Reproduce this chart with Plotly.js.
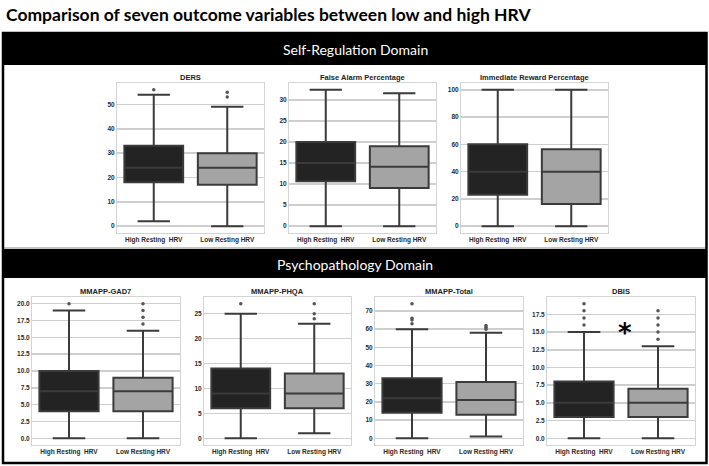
<!DOCTYPE html>
<html>
<head>
<meta charset="utf-8">
<script src="https://cdn.plot.ly/plotly-3.0.1.min.js"></script>
<style>html,body{margin:0;padding:0;background:#fff;}#chart{width:709px;height:466px;}</style>
</head>
<body>
<div id="chart"></div>
<script>
// ---- data ----
const categories = ['High Resting  HRV', 'Low Resting HRV'];
const panelTitles = ['DERS', 'False Alarm Percentage', 'Immediate Reward Percentage',
  'MMAPP-GAD7', 'MMAPP-PHQA', 'MMAPP-Total', 'DBIS'];

// High Resting HRV box statistics per panel
const lowerHigh = [2, 0, 0, 0, 0, 0, 0];
const q1High    = [18, 10.7, 23, 4, 6, 14, 3];
const medHigh   = [24, 15, 40, 7, 9, 22, 5];
const q3High    = [33, 20, 60, 10, 14, 33, 8];
const upperHigh = [54, 32.4, 100, 19, 25, 60, 15];
const outHigh   = [[56], [], [], [20], [27], [63, 65, 66, 74], [16, 17, 18, 19]];

// Low Resting HRV box statistics per panel
const lowerLow = [0, 0, 0, 0, 1, 1, 0];
const q1Low    = [17, 9.1, 16.3, 4, 6, 13, 3];
const medLow   = [24, 14.1, 40, 7, 9, 21, 5];
const q3Low    = [30, 19, 56.5, 9, 13, 31, 7];
const upperLow = [49, 31.6, 100, 16, 23, 58, 13];
const outLow   = [[53, 55], [], [], [17, 18, 19, 20], [24, 25, 27], [60, 61, 62], [14, 15, 16, 17, 18]];

// axis settings
const yRanges = [[-2.8, 58.8], [-1.62, 34.02], [-5, 105], [-1, 21], [-1.35, 28.35], [-3.7, 77.7], [-0.95, 19.95]];
const yDtick  = [10, 5, 20, 2.5, 5, 10, 2.5];
const yFormat = ['', '', '', '.1f', '', '', '.1f'];

const significant = [false, false, false, false, false, false, true];

// ---- layout helpers (pixel -> paper) ----
const W = 709, H = 466;
const px = v => v / W;
const py = v => 1 - v / H;

const plotBoxes = [
  [117, 264, 83, 233], [289, 436, 83, 233], [461, 608, 83, 233],
  [32, 180, 297, 445], [204, 351, 297, 445], [375, 523, 297, 445], [547, 695, 297, 445]
];

const darkFill = '#232323', lightFill = '#a4a4a4', lineCol = '#3b3b3b';
const traces = [];
const layout = {
  width: W, height: H,
  margin: {l: 0, r: 0, t: 0, b: 0},
  paper_bgcolor: '#ffffff', plot_bgcolor: '#ffffff',
  showlegend: false,
  boxmode: 'overlay',
  shapes: [], annotations: []
};

const tickFont = {family: 'Liberation Sans, Arial, sans-serif', size: 6.5, color: '#2a2a2a', weight: 700};

for (let i = 0; i < 7; i++) {
  const k = i + 1;
  const xa = 'x' + k, ya = 'y' + k;
  const [x0, x1, y0, y1] = plotBoxes[i];
  layout['xaxis' + k] = {
    domain: [px(x0), px(x1)], anchor: ya, type: 'category',
    categoryorder: 'array', categoryarray: categories, range: [-0.5, 1.5],
    showgrid: false, zeroline: false, showline: true, mirror: true,
    linecolor: '#d4d4d4', linewidth: 1, ticks: '', tickfont: tickFont, fixedrange: true
  };
  layout['yaxis' + k] = {
    domain: [py(y1), py(y0)], anchor: xa, range: yRanges[i],
    tick0: 0, dtick: yDtick[i], tickformat: yFormat[i],
    showgrid: true, gridcolor: '#cfcfcf', gridwidth: 1.5, zeroline: false,
    showline: true, mirror: true, linecolor: '#d4d4d4', linewidth: 1,
    ticks: '', tickfont: tickFont, fixedrange: true
  };
  const common = {type: 'box', xaxis: xa, yaxis: ya, boxpoints: false, width: 0.8,
    whiskerwidth: 0.55, line: {color: lineCol, width: 2}, hoverinfo: 'skip', showlegend: false};
  traces.push(Object.assign({}, common, {
    x: [categories[0]], q1: [q1High[i]], median: [medHigh[i]], q3: [q3High[i]],
    lowerfence: [lowerHigh[i]], upperfence: [upperHigh[i]], fillcolor: darkFill
  }));
  traces.push(Object.assign({}, common, {
    x: [categories[1]], q1: [q1Low[i]], median: [medLow[i]], q3: [q3Low[i]],
    lowerfence: [lowerLow[i]], upperfence: [upperLow[i]], fillcolor: lightFill
  }));
  const ox = [], oy = [];
  outHigh[i].forEach(v => { ox.push(categories[0]); oy.push(v); });
  outLow[i].forEach(v => { ox.push(categories[1]); oy.push(v); });
  if (ox.length) {
    traces.push({type: 'scatter', mode: 'markers', x: ox, y: oy, xaxis: xa, yaxis: ya,
      marker: {color: '#555555', size: 3.5}, hoverinfo: 'skip', showlegend: false});
  }
  layout.annotations.push({
    xref: 'paper', yref: 'paper', x: px((x0 + x1) / 2), y: py(y0 - 6),
    xanchor: 'center', yanchor: 'middle', showarrow: false, text: panelTitles[i],
    font: {family: 'Liberation Sans, Arial, sans-serif', size: 7.5, color: '#222222', weight: 700}
  });
  if (significant[i]) {
    layout.annotations.push({
      xref: xa + ' domain', yref: ya, x: 0.53, y: 14.9, xanchor: 'center', yanchor: 'middle',
      showarrow: false, text: '*',
      font: {family: 'DejaVu Sans, sans-serif', size: 26, color: '#000000', weight: 700}
    });
  }
}

// frame and domain header bands
layout.shapes.push(
  {type: 'rect', xref: 'paper', yref: 'paper', x0: px(3), x1: px(706), y0: py(33), y1: py(65),
   fillcolor: '#000000', line: {width: 0}, layer: 'below'},
  {type: 'rect', xref: 'paper', yref: 'paper', x0: px(3), x1: px(706), y0: py(249), y1: py(278),
   fillcolor: '#000000', line: {width: 0}, layer: 'below'},
  {type: 'line', xref: 'paper', yref: 'paper', x0: px(3), x1: px(706), y0: py(248), y1: py(248),
   line: {color: '#8a8a8a', width: 1}},
  {type: 'rect', xref: 'paper', yref: 'paper', x0: px(3), x1: px(706.5), y0: py(33), y1: py(463),
   fillcolor: 'rgba(0,0,0,0)', line: {color: '#000000', width: 2.5}}
);

layout.annotations.push(
  {xref: 'paper', yref: 'paper', x: px(4), y: py(14), xanchor: 'left', yanchor: 'middle',
   showarrow: false, text: 'Comparison of seven outcome variables between low and high HRV',
   font: {family: 'Lato, sans-serif', size: 17.5, color: '#000000', weight: 700}},
  {xref: 'paper', yref: 'paper', x: px(355), y: py(49), xanchor: 'center', yanchor: 'middle',
   showarrow: false, text: 'Self-Regulation Domain',
   font: {family: 'Lato, sans-serif', size: 14, color: '#ffffff'}},
  {xref: 'paper', yref: 'paper', x: px(355), y: py(264), xanchor: 'center', yanchor: 'middle',
   showarrow: false, text: 'Psychopathology Domain',
   font: {family: 'Lato, sans-serif', size: 14, color: '#ffffff'}}
);

Plotly.newPlot('chart', traces, layout, {displayModeBar: false, staticPlot: true});
</script>
</body>
</html>
